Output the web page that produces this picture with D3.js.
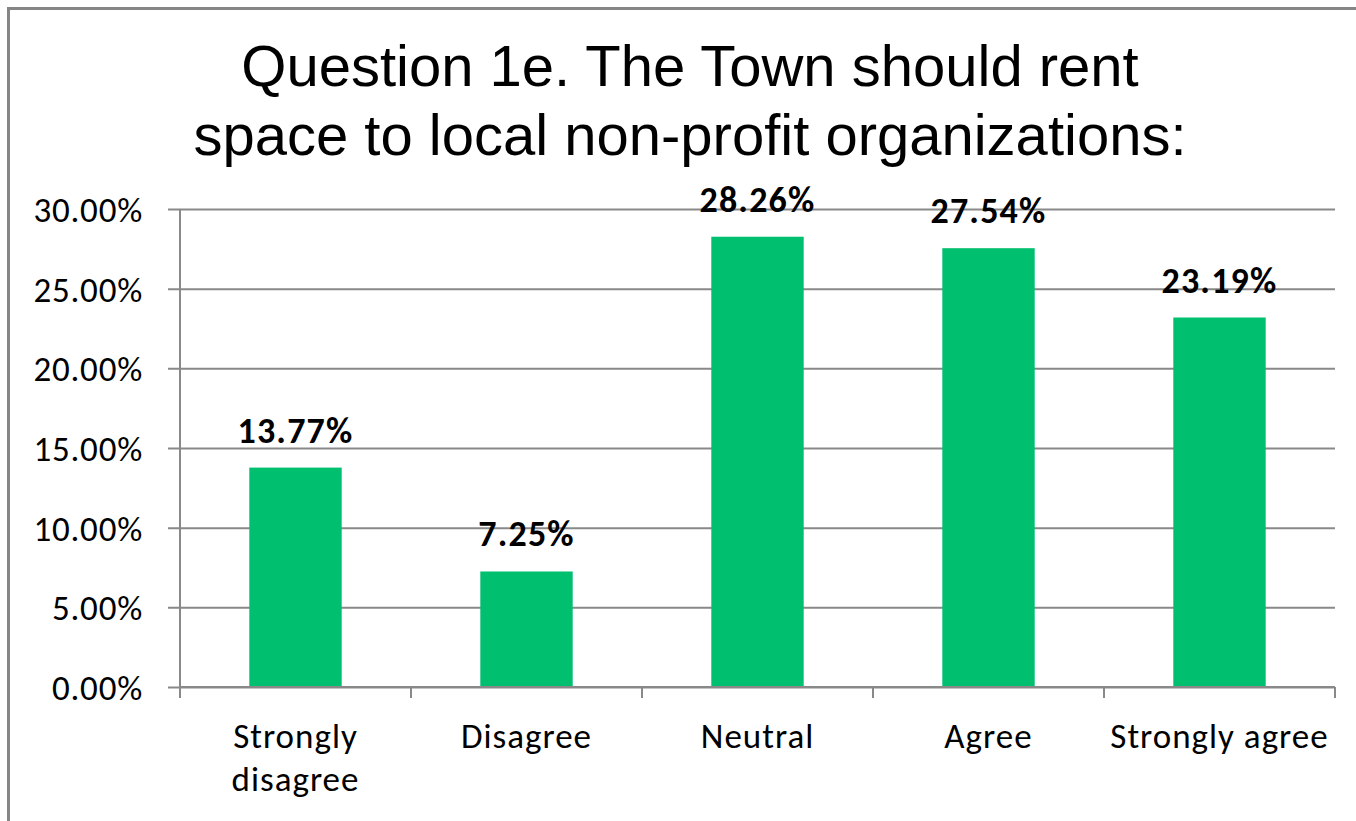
<!DOCTYPE html>
<html>
<head>
<meta charset="utf-8">
<script src="https://cdn.jsdelivr.net/npm/d3@7"></script>
<style>
  body { margin: 0; background: #fff; }
  svg { display: block; }
</style>
</head>
<body>
<script>
// chart data
var categories = ["Strongly disagree", "Disagree", "Neutral", "Agree", "Strongly agree"];
var values = [0.1377, 0.0725, 0.2826, 0.2754, 0.2319];
var yTicks = [0, 0.05, 0.10, 0.15, 0.20, 0.25, 0.30];
var titleLines = ["Question 1e. The Town should rent", "space to local non-profit organizations:"];

var width = 1356,
    height = 821,
    plotLeft = 180, plotRight = 1335,
    plotTop = 209, plotBottom = 687;

var gridColor = "#898989",
    barColor = "#00bf6f",
    labelFont = "Carlito, Lato, 'Open Sans', sans-serif",
    labelSize = "35px";

var svg = d3.select("body").append("svg")
    .attr("width", width)
    .attr("height", height);

svg.append("rect")
    .attr("width", width)
    .attr("height", height)
    .attr("fill", "#fff");

// chart frame (only left and top visible in the reference)
svg.append("rect")
    .attr("x", 8.5).attr("y", 8.5)
    .attr("width", width + 20).attr("height", height + 20)
    .attr("fill", "none")
    .attr("stroke", "#868686")
    .attr("stroke-width", 3);

// title
svg.append("text")
    .attr("x", 690)
    .attr("text-anchor", "middle")
    .style("font-family", "'Liberation Sans', Arial, sans-serif")
    .style("font-size", "58px")
    .attr("fill", "#000")
    .selectAll("tspan")
    .data(titleLines)
    .enter().append("tspan")
    .attr("x", 690)
    .attr("y", function (d, i) { return 86 + i * 69; })
    .text(function (d) { return d; });

var x = d3.scaleBand()
    .domain(categories)
    .range([plotLeft, plotRight])
    .paddingInner(0.6)
    .paddingOuter(0.3);

var y = d3.scaleLinear()
    .domain([0, 0.30])
    .range([plotBottom, plotTop]);

// gridlines + y axis
var yAxis = d3.axisLeft(y)
    .tickValues(yTicks)
    .tickSize(-(plotRight - plotLeft))
    .tickFormat(d3.format(".2%"));

var gy = svg.append("g")
    .attr("transform", "translate(" + plotLeft + ",0)")
    .call(yAxis);

gy.select(".domain").remove();
gy.selectAll(".tick line")
    .attr("x1", -12)
    .attr("stroke", gridColor)
    .attr("stroke-width", 2);
gy.selectAll(".tick text")
    .attr("x", -37)
    .attr("dy", "0.36em")
    .attr("fill", "#000")
    .style("font-family", labelFont)
    .style("font-size", labelSize)
    .style("letter-spacing", "0.8px");

// vertical axis line
svg.append("line")
    .attr("x1", plotLeft).attr("x2", plotLeft)
    .attr("y1", plotTop).attr("y2", plotBottom + 11)
    .attr("stroke", gridColor)
    .attr("stroke-width", 2);

// bars
svg.selectAll(".bar")
    .data(values)
    .enter().append("rect")
    .attr("class", "bar")
    .attr("x", function (d, i) { return x(categories[i]); })
    .attr("y", function (d) { return y(d); })
    .attr("width", x.bandwidth())
    .attr("height", function (d) { return y(0) - y(d); })
    .attr("fill", barColor);

// x axis with category boundary ticks
svg.append("line")
    .attr("x1", plotLeft).attr("x2", plotRight)
    .attr("y1", plotBottom).attr("y2", plotBottom)
    .attr("stroke", gridColor)
    .attr("stroke-width", 2);

var step = x.step();
svg.selectAll(".xtick")
    .data(d3.range(categories.length + 1))
    .enter().append("line")
    .attr("x1", function (d) { return plotLeft + d * step; })
    .attr("x2", function (d) { return plotLeft + d * step; })
    .attr("y1", plotBottom)
    .attr("y2", plotBottom + 11)
    .attr("stroke", gridColor)
    .attr("stroke-width", 2);

// data labels
svg.selectAll(".vlabel")
    .data(values)
    .enter().append("text")
    .attr("x", function (d, i) { return x(categories[i]) + x.bandwidth() / 2; })
    .attr("y", function (d) { return y(d) - 25; })
    .attr("text-anchor", "middle")
    .style("font-family", labelFont)
    .style("font-size", "36px")
    .style("font-weight", "bold")
    .style("letter-spacing", "1.2px")
    .attr("fill", "#000")
    .text(function (d) { return (d * 100).toFixed(2) + "%"; });

// category labels (wrap the long first one as in the reference)
var catLines = categories.map(function (c, i) {
    return i === 0 ? ["Strongly", "disagree"] : [c];
});

svg.selectAll(".clabel")
    .data(categories)
    .enter().append("text")
    .attr("text-anchor", "middle")
    .style("font-family", labelFont)
    .style("font-size", labelSize)
    .style("letter-spacing", "1px")
    .attr("fill", "#000")
    .each(function (d, i) {
        var cx = x(d) + x.bandwidth() / 2;
        d3.select(this).selectAll("tspan")
            .data(catLines[i])
            .enter().append("tspan")
            .attr("x", cx)
            .attr("y", function (t, j) { return 748 + j * 43; })
            .text(function (t) { return t; });
    });
</script>
</body>
</html>
